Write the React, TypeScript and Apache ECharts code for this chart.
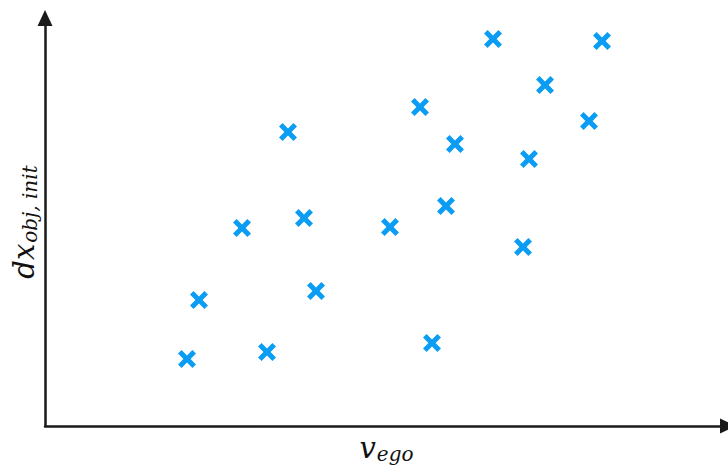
import React, { useEffect, useRef } from "react";
import * as echarts from "echarts";

// point positions (arbitrary units)
const xValues = [142, 154, 197, 222, 243, 259, 271, 345, 375, 387, 401, 410, 448, 478, 484, 500, 544, 557];
const yValues = [67, 126, 198, 74, 294, 208, 135, 199, 319, 83, 220, 282, 387, 179, 267, 341, 305, 385];
const xName = ["v", "ego"];
const yName = ["dx", "obj, init"];

const X_PATH =
  "path://M2,0 L5,3 L8,0 L10,2 L7,5 L10,8 L8,10 L5,7 L2,10 L0,8 L3,5 L0,2 Z";

export default function App() {
  const ref = useRef<HTMLDivElement>(null);
  useEffect(() => {
    if (!ref.current) return;
    const chart = echarts.init(ref.current, undefined, { renderer: "svg" });
    const font = "DejaVu Serif";
    const axisLine = {
      show: true,
      symbol: ["none", "triangle"],
      symbolSize: [15, 16],
      lineStyle: { color: "#1a1a1a", width: 2.5 },
    };
    chart.setOption({
      animation: false,
      backgroundColor: "#ffffff",
      grid: {
        left: 45,
        right: 0,
        top: 18,
        bottom: 47,
        containLabel: false,
        outerBoundsMode: "none",
      },
      xAxis: {
        type: "value",
        min: 0,
        max: 683,
        axisLine,
        axisTick: { show: false },
        axisLabel: { show: false },
        splitLine: { show: false },
        name: `{a|${xName[0]}}{b|${xName[1]}}`,
        nameLocation: "middle",
        nameGap: 6,
        nameTextStyle: {
          rich: {
            a: { fontSize: 29, fontStyle: "italic", fontFamily: font, color: "#111" },
            b: { fontSize: 20, fontStyle: "italic", fontFamily: font, color: "#111", padding: [12, 0, 0, 1] },
          },
        },
      },
      yAxis: {
        type: "value",
        min: 0,
        max: 408,
        axisLine,
        axisTick: { show: false },
        axisLabel: { show: false },
        splitLine: { show: false },
        name: `{a|${yName[0]}}{b|${yName[1]}}`,
        nameLocation: "middle",
        nameRotate: 90,
        nameGap: 5,
        nameTextStyle: {
          rich: {
            a: { fontSize: 29, fontStyle: "italic", fontFamily: font, color: "#111" },
            b: { fontSize: 20, fontStyle: "italic", fontFamily: font, color: "#111", padding: [13, 0, 0, 1] },
          },
        },
      },
      series: [
        {
          type: "scatter",
          symbol: X_PATH,
          symbolSize: 18,
          itemStyle: { color: "#0B9DF3", opacity: 1 },
          data: xValues.map((x, i) => [x, yValues[i]]),
        },
      ],
    });
    return () => chart.dispose();
  }, []);
  return (
    <div
      ref={ref}
      style={{ position: "absolute", left: 0, top: 0, width: 728, height: 473 }}
    />
  );
}
